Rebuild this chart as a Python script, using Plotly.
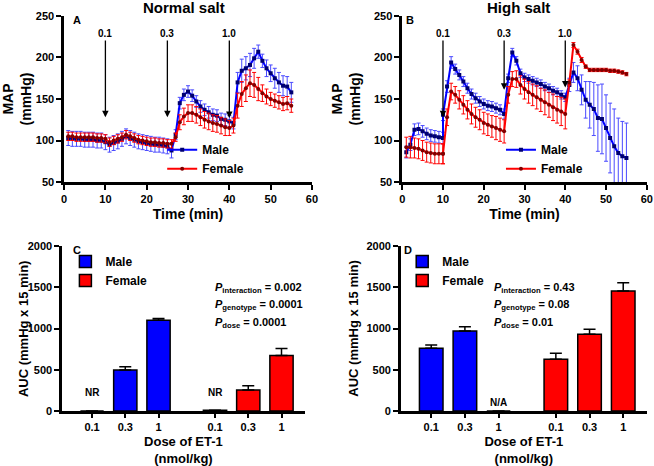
import plotly.graph_objects as go

# ---- Panel A: normal salt, MAP time course ----
time_a = list(range(1, 56))
male_a = [103, 102, 102, 102, 101, 101, 101, 100, 100, 98, 95, 97, 99, 102, 105,
          103, 101, 99, 98, 97, 96, 95, 95, 94, 93, 88, 107, 145, 155, 159,
          154, 147, 141, 137, 134, 131, 130, 126, 125, 123, 121, 170, 184, 187, 191,
          199, 207, 196, 187, 181, 175, 170, 166, 165, 158]
male_a_err = [9, 9, 9, 9, 9, 9, 9, 9, 9, 9, 9, 9, 9, 9, 9,
              9, 9, 9, 9, 9, 9, 9, 9, 9, 9, 9, 6, 7, 7, 7,
              7, 7, 7, 7, 7, 7, 7, 7, 7, 7, 7, 12, 14, 14, 14,
              12, 8, 8, 10, 10, 12, 12, 12, 12, 12]
female_a = [105, 105, 104, 104, 104, 104, 104, 103, 103, 102, 98, 100, 102, 104, 107,
            105, 103, 101, 100, 99, 98, 98, 97, 97, 96, 96, 104, 122, 129, 133,
            133, 131, 128, 125, 123, 121, 120, 118, 116, 115, 118, 142, 156, 163, 169,
            167, 162, 157, 153, 150, 148, 146, 144, 145, 142]
female_a_err = [5, 5, 5, 5, 5, 5, 5, 5, 5, 5, 5, 5, 5, 5, 5,
                5, 5, 5, 5, 5, 5, 5, 5, 5, 5, 5, 5, 9, 10, 10,
                10, 10, 10, 10, 10, 10, 10, 10, 10, 9, 9, 15, 15, 16, 16,
                15, 14, 10, 9, 8, 8, 8, 8, 8, 8]

# ---- Panel B: high salt, MAP time course ----
time_b = [1, 2, 3, 4, 5, 6, 7, 8, 9, 10, 10, 11, 12, 13, 14, 15, 16, 17, 18, 19, 20,
          21, 22, 23, 24, 25, 26, 27, 28, 29, 30, 31, 32, 33, 34, 35, 36, 37, 38, 39, 40,
          41, 42, 43, 44, 45, 46, 47, 48, 49, 50, 51, 52, 53, 54, 55]
male_b = [86, 95, 113, 114, 111, 108, 106, 105, 104, 103, 131, 165, 194, 186, 179, 171,
          163, 156, 151, 147, 144, 142, 141, 139, 137, 132, 175, 206, 196, 181, 176,
          174, 172, 170, 168, 165, 163, 160, 158, 155, 152, 167, 182, 175, 161, 149,
          143, 138, 127, 126, 115, 103, 93, 85, 81, 79]
male_b_err = [7, 7, 7, 7, 7, 7, 7, 7, 7, 7, 7, 7, 7, 6, 6, 6,
              6, 6, 6, 6, 6, 6, 6, 6, 6, 6, 5, 5, 5, 5, 5,
              5, 5, 5, 5, 5, 5, 5, 5, 5, 5, 8, 12, 15, 18, 22,
              28, 32, 40, 42, 40, 42, 45, 42, 42, 42]
female_b = [92, 92, 91, 90, 88, 86, 85, 84, 84, 84, 84, 128, 159, 155, 149, 143,
            137, 132, 128, 125, 121, 119, 117, 115, 113, 111, 155, 174, 174, 167, 162,
            158, 155, 152, 149, 146, 143, 140, 137, 135, 132, 170, 215, 207, 197, 189,
            185, 185, 185, 185, 185, 184, 184, 183, 182, 180]
female_b_err = [12, 13, 12, 12, 12, 12, 12, 12, 12, 12, 12, 10, 10, 10, 11, 11,
                11, 12, 12, 12, 13, 13, 13, 14, 14, 14, 10, 9, 10, 11, 12,
                13, 13, 14, 14, 15, 15, 16, 16, 17, 18, 3, 3, 3, 3, 2,
                2, 2, 2, 2, 2, 2, 2, 2, 2, 2]

dose_times = [10, 25, 40]
dose_labels = ['0.1', '0.3', '1.0']
arrow_tips_a = [128, 128, 127]
arrow_tips_b = [128, 161, 164]

# ---- Panels C and D: AUC bars ----
dose_ticks = ['0.1', '0.3', '1']
male_c = [0, 497, 1101]
male_c_err = [0, 40, 20]
female_c = [8, 254, 674]
female_c_err = [0, 52, 84]
male_d = [760, 970, 0]
male_d_err = [40, 52, 0]
female_d = [627, 930, 1455]
female_d_err = [73, 60, 100]

BLUE = '#0000ff'
RED = '#ff0000'
FONT = 'Arial'

fig = go.Figure()


def add_line(x, y, err, name, color, mcolor, symbol, xa, ya, legend, bar_color):
    fig.add_trace(go.Scatter(
        x=x, y=y, name=name, mode='lines+markers', xaxis=xa, yaxis=ya, legend=legend,
        line=dict(color=color, width=2),
        marker=dict(symbol=symbol, size=4, color=mcolor),
        error_y=dict(type='data', array=err, color=bar_color, thickness=1, width=2),
    ))


add_line(time_a, male_a, male_a_err, 'Male', BLUE, '#000070', 'square', 'x', 'y', 'legend', '#4a4aff')
add_line(time_a, female_a, female_a_err, 'Female', RED, '#800000', 'circle', 'x', 'y', 'legend', RED)
add_line(time_b, male_b, male_b_err, 'Male', BLUE, '#000070', 'square', 'x2', 'y2', 'legend2', '#4a4aff')
add_line(time_b, female_b, female_b_err, 'Female', RED, '#800000', 'circle', 'x2', 'y2', 'legend2', RED)

# bar positions: two groups of three doses with a gap
male_pos = [0.9, 1.9, 2.9]
female_pos = [4.6, 5.6, 6.6]


def add_bars(pos, vals, errs, name, color, xa, ya, legend):
    fig.add_trace(go.Bar(
        x=pos, y=vals, name=name, xaxis=xa, yaxis=ya, legend=legend, width=0.7,
        marker=dict(color=color, line=dict(color='black', width=1.5)),
        error_y=dict(type='data', symmetric=False, array=errs, arrayminus=[0] * len(errs),
                     color='black', thickness=1.5, width=6),
    ))


add_bars(male_pos, male_c, male_c_err, 'Male', BLUE, 'x3', 'y3', 'legend3')
add_bars(female_pos, female_c, female_c_err, 'Female', RED, 'x3', 'y3', 'legend3')
add_bars(male_pos, male_d, male_d_err, 'Male', BLUE, 'x4', 'y4', 'legend4')
add_bars(female_pos, female_d, female_d_err, 'Female', RED, 'x4', 'y4', 'legend4')

axis = dict(showline=True, linecolor='black', linewidth=2.5, ticks='outside', ticklen=5,
            tickwidth=2, tickcolor='black', showgrid=False, zeroline=False, automargin=False,
            tickfont=dict(family=FONT, size=11, color='black', weight='bold'))
title_font = dict(family=FONT, size=14, color='black', weight='bold')
bar_title_font = dict(family=FONT, size=13, color='black', weight='bold')

fig.update_layout(
    width=654, height=466, paper_bgcolor='white', plot_bgcolor='white',
    margin=dict(l=0, r=0, t=0, b=0), barmode='overlay',
    xaxis=dict(axis, domain=[0.098, 0.477], range=[0, 60], dtick=10, anchor='y',
               title=dict(text='Time (min)', font=title_font, standoff=6)),
    yaxis=dict(axis, domain=[0.6094, 0.9657], range=[50, 250], dtick=50, anchor='x',
               title=dict(text='MAP<br>(mmHg)', font=title_font, standoff=10)),
    xaxis2=dict(axis, domain=[0.615, 0.989], range=[0, 60], dtick=10, anchor='y2',
                title=dict(text='Time (min)', font=title_font, standoff=6)),
    yaxis2=dict(axis, domain=[0.6094, 0.9657], range=[50, 250], dtick=50, anchor='x2',
                title=dict(text='MAP<br>(mmHg)', font=title_font, standoff=10)),
    xaxis3=dict(axis, domain=[0.095, 0.466], range=[0, 7.3], anchor='y3',
                tickvals=male_pos + female_pos, ticktext=dose_ticks * 2, ticklen=4,
                title=dict(text='Dose of ET-1<br>(nmol/kg)', font=bar_title_font, standoff=8)),
    yaxis3=dict(axis, domain=[0.118, 0.472], range=[0, 2000], dtick=500, anchor='x3'),
    xaxis4=dict(axis, domain=[0.613, 0.989], range=[0, 7.3], anchor='y4',
                tickvals=male_pos + female_pos, ticktext=dose_ticks * 2, ticklen=4,
                title=dict(text='Dose of ET-1<br>(nmol/kg)', font=bar_title_font, standoff=8)),
    yaxis4=dict(axis, domain=[0.118, 0.472], range=[0, 2000], dtick=500, anchor='x4'),
)

leg_font = dict(family=FONT, size=12, color='black', weight='bold')
fig.update_layout(
    legend=dict(x=0.248, y=0.71, xanchor='left', yanchor='top', font=leg_font,
                bgcolor='rgba(0,0,0,0)'),
    legend2=dict(x=0.766, y=0.71, xanchor='left', yanchor='top', font=leg_font,
                 bgcolor='rgba(0,0,0,0)'),
    legend3=dict(x=0.1, y=0.47, xanchor='left', yanchor='top', font=leg_font,
                 bgcolor='rgba(0,0,0,0)'),
    legend4=dict(x=0.615, y=0.47, xanchor='left', yanchor='top', font=leg_font,
                 bgcolor='rgba(0,0,0,0)'),
)

ann = []
# panel titles and letters
ann.append(dict(text='<b>Normal salt</b>', x=29, y=250, xref='x', yref='y', yanchor='bottom',
                showarrow=False, yshift=-2, font=dict(family=FONT, size=15, color='black')))
ann.append(dict(text='<b>High salt</b>', x=28.5, y=250, xref='x2', yref='y2', yanchor='bottom',
                showarrow=False, yshift=-2, font=dict(family=FONT, size=15, color='black')))
for letter, xr, yr, xx, yy in [('A', 'x', 'y', 3.2, 250), ('B', 'x2', 'y2', 2.0, 250),
                               ('C', 'x3', 'y3', 0.45, 2000), ('D', 'x4', 'y4', 0.2, 2000)]:
    ann.append(dict(text='<b>%s</b>' % letter, x=xx, y=yy, xref=xr, yref=yr, showarrow=False,
                    xanchor='center', yanchor='top', yshift=4,
                    font=dict(family=FONT, size=11, color='black')))

# y titles of the bar panels (C sits tight against its tick labels)
for xx in [0.036, 0.54]:
    ann.append(dict(text='AUC (mmHg x 15 min)', x=xx, y=0.295, xref='paper', yref='paper',
                    textangle=-90, showarrow=False, xanchor='center', yanchor='middle',
                    font=dict(family=FONT, size=13, color='black', weight='bold')))

# dose arrows
for xr, yr, tips in [('x', 'y', arrow_tips_a), ('x2', 'y2', arrow_tips_b)]:
    for t, lab, tip in zip(dose_times, dose_labels, tips):
        ann.append(dict(text='<b>%s</b>' % lab, x=t, y=tip, xref=xr, yref=yr,
                        axref=xr, ayref=yr, ax=t, ay=229, showarrow=True,
                        arrowhead=2, arrowsize=1, arrowwidth=1.3, arrowcolor='black',
                        font=dict(family=FONT, size=10, color='black')))

# P values
p_c = [('interaction', '0.002'), ('genotype', '0.0001'), ('dose', '0.0001')]
p_d = [('interaction', '0.43'), ('genotype', '0.08'), ('dose', '0.01')]
p_y = [1488, 1283, 1065]
for xr, yr, xx, plist in [('x3', 'y3', 4.55, p_c), ('x4', 'y4', 2.7, p_d)]:
    for (sub, val), yy in zip(plist, p_y):
        ann.append(dict(text='<b><i>P</i><sub>%s</sub> = %s</b>' % (sub, val), x=xx, y=yy,
                        xref=xr, yref=yr, xanchor='left', yanchor='middle', showarrow=False,
                        font=dict(family=FONT, size=11, color='black')))

ann.append(dict(text='<b>NR</b>', x=male_pos[0], y=220, xref='x3', yref='y3', showarrow=False,
                font=dict(family=FONT, size=10, color='black')))
ann.append(dict(text='<b>NR</b>', x=female_pos[0], y=220, xref='x3', yref='y3', showarrow=False,
                font=dict(family=FONT, size=10, color='black')))
ann.append(dict(text='<b>N/A</b>', x=male_pos[2], y=100, xref='x4', yref='y4', showarrow=False,
                font=dict(family=FONT, size=10, color='black')))

fig.update_layout(annotations=ann)

# drop the browser's default page margin so the figure fills the window
fig.write_html('out.html', config={'displayModeBar': False},
               post_script="document.body.style.margin='0';")
